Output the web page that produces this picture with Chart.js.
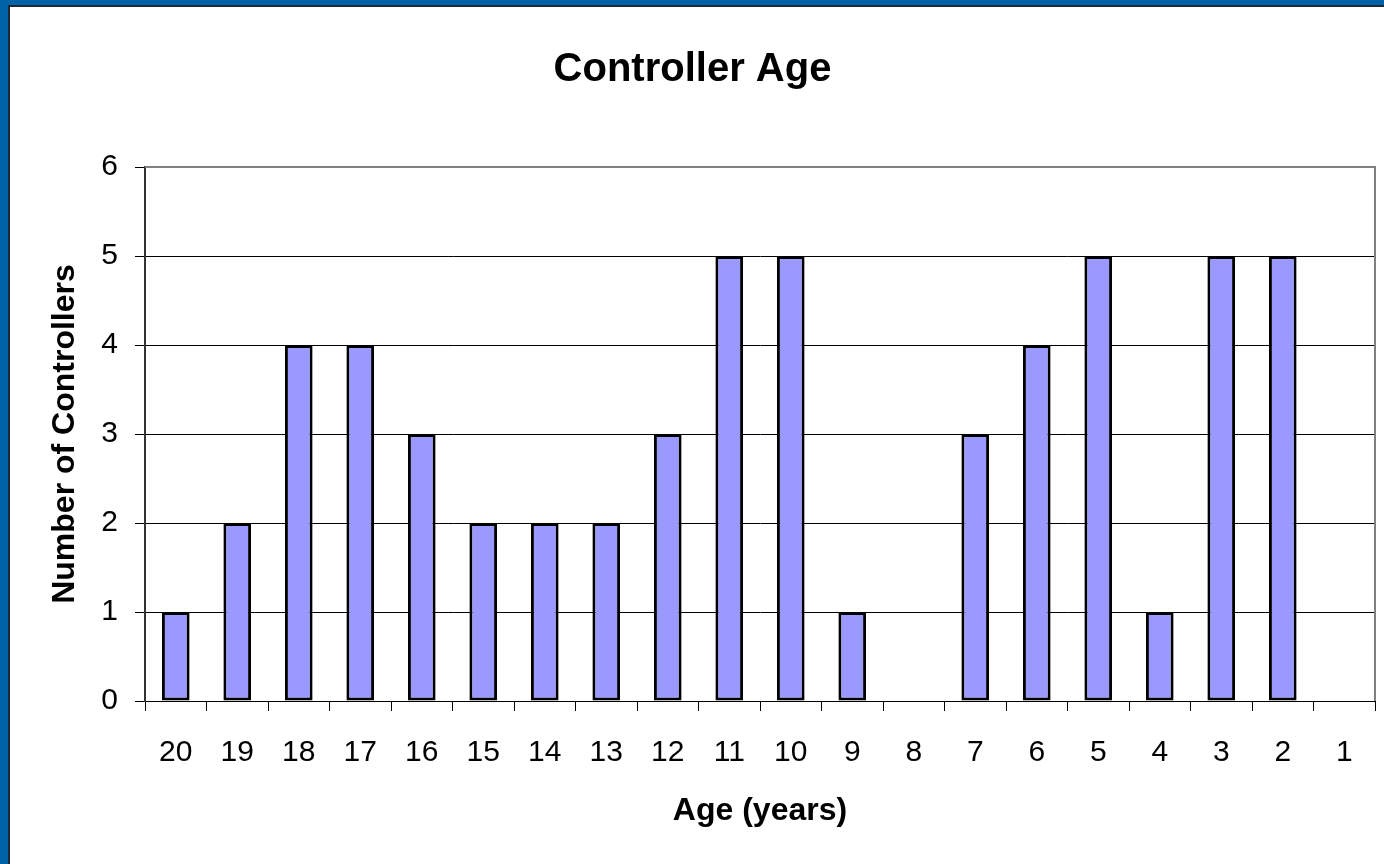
<!DOCTYPE html>
<html>
<head>
<meta charset="utf-8">
<script src="https://cdn.jsdelivr.net/npm/chart.js@4.4.1/dist/chart.umd.min.js"></script>
<style>
  html, body { margin: 0; padding: 0; }
  body { width: 1384px; height: 864px; background: #0063a8; overflow: hidden; position: relative; }
  #frame {
    position: absolute; left: 8px; top: 5px; right: 0; bottom: 0;
    background: #fff; border-left: 2px solid #1c2a38; border-top: 2px solid #1c2a38;
  }
  #wrap { position: absolute; left: 0; top: 0; width: 1374px; height: 857px; }
</style>
</head>
<body>
<div id="frame"><div id="wrap"><canvas id="ageChart"></canvas></div></div>
<script>
// controller age (years) vs number of controllers
const ageLabels = ["20", "19", "18", "17", "16", "15", "14", "13", "12", "11",
                   "10", "9", "8", "7", "6", "5", "4", "3", "2", "1"];
const controllerCounts = [1, 2, 4, 4, 3, 2, 2, 2, 3, 5, 5, 1, 0, 3, 4, 5, 1, 5, 5, 0];
const yTicks = [0, 1, 2, 3, 4, 5, 6];

const FONT = "'Liberation Sans', Arial, sans-serif";

// gray frame on top and right of the plot area
const plotFrame = {
    id: "plotFrame",
    afterDraw(chart) {
        const { ctx, chartArea: a } = chart;
        ctx.save();
        ctx.strokeStyle = "#808080";
        ctx.lineWidth = 2;
        ctx.beginPath();
        ctx.moveTo(a.left, a.top);
        ctx.lineTo(a.right, a.top);
        ctx.lineTo(a.right, a.bottom);
        ctx.stroke();
        ctx.restore();
    },
};

new Chart(document.getElementById("ageChart").getContext("2d"), {
    type: "bar",
    data: {
        labels: ageLabels,
        datasets: [
            {
                label: "Controllers",
                data: controllerCounts,
                backgroundColor: "#9999ff",
                borderColor: "#000",
                borderWidth: 3,
                borderSkipped: false,
                barPercentage: 0.45,
                categoryPercentage: 1,
            },
        ],
    },
    options: {
        responsive: true,
        maintainAspectRatio: false,
        animation: false,
        layout: { padding: { top: 0, right: 9, bottom: 0, left: 0 } },
        plugins: {
            legend: { display: false },
            tooltip: { enabled: false },
            title: {
                display: true,
                text: "Controller Age",
                color: "#000",
                font: { family: FONT, size: 40, weight: "bold" },
                padding: { top: 39, bottom: 73 },
            },
        },
        scales: {
            x: {
                afterFit(scale) { scale.height = 163; },
                grid: {
                    offset: true,
                    drawOnChartArea: false,
                    tickLength: 10,
                    tickColor: "#000",
                },
                border: { color: "#000", width: 1 },
                ticks: {
                    color: "#000",
                    padding: 24,
                    maxRotation: 0,
                    autoSkip: false,
                    font: { family: FONT, size: 30 },
                },
                title: {
                    display: true,
                    text: "Age (years)",
                    color: "#000",
                    font: { family: FONT, size: 32, weight: "bold" },
                    padding: { top: 0, bottom: 34 },
                },
            },
            y: {
                min: 0,
                max: 6,
                afterFit(scale) { scale.width = 135; },
                afterBuildTicks(scale) { scale.ticks = yTicks.map(v => ({ value: v })); },
                grid: {
                    color: c => (c.tick && c.tick.value === 6 ? "#808080" : "#000"),
                    lineWidth: 1,
                    tickLength: 10,
                    tickColor: "#000",
                },
                border: { color: "#333", width: 2 },
                ticks: {
                    color: "#000",
                    padding: 17,
                    font: { family: FONT, size: 30 },
                },
                title: {
                    display: true,
                    text: "Number of Controllers",
                    color: "#000",
                    font: { family: FONT, size: 32, weight: "bold" },
                    padding: { top: 36, bottom: 0 },
                },
            },
        },
    },
    plugins: [plotFrame],
});
</script>
</body>
</html>
